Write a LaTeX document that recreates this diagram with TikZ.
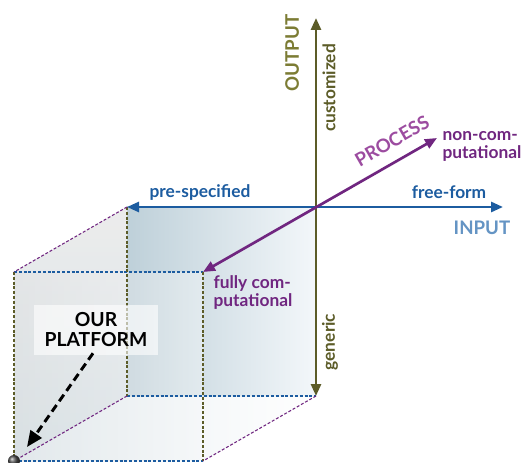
\documentclass[tikz,border=0pt]{standalone}
\usepackage{fontspec}
\setmainfont{Lato}
\usetikzlibrary{arrows.meta}

\definecolor{inblue}{RGB}{28,92,160}
\definecolor{inlight}{RGB}{100,148,196}
\definecolor{procpurple}{RGB}{112,38,128}
\definecolor{proclight}{RGB}{156,76,160}
\definecolor{outolive}{RGB}{92,92,40}
\definecolor{outlight}{RGB}{124,124,52}
\definecolor{cubedark}{RGB}{190,208,217}
\definecolor{cubelight}{RGB}{243,247,250}

\begin{document}
\begin{tikzpicture}[x=0.75pt,y=0.75pt,yscale=-1,xscale=1,
  axisline/.style={line width=2pt,{Triangle[length=9pt,width=7.5pt]}-{Triangle[length=9pt,width=7.5pt]}},
  edgeline/.style={line width=0.8pt,dash pattern=on 2.2pt off 1.4pt},
  lbl/.style={font=\bfseries\fontsize{13}{13.5}\selectfont,inner sep=1pt},
  axislbl/.style={font=\bfseries\fontsize{14}{15}\selectfont,inner sep=1pt}]
\useasboundingbox (0,0) rectangle (524,463);
\fill[white] (0,0) rectangle (524,463);

%Cube corners
\coordinate (O)   at (316,207);
\coordinate (bTL) at (127,207);
\coordinate (bBL) at (127,396);
\coordinate (bBR) at (316,396);
\coordinate (fTL) at (14,272);
\coordinate (fTR) at (203,272);
\coordinate (fBL) at (14,461);
\coordinate (fBR) at (203,461);
%Axis ends
\coordinate (inR)   at (503,207);
\coordinate (outT)  at (316,18);
\coordinate (procT) at (437,138);

%Shape: Cube faces
\shade[left color=cubedark,right color=cubelight] (bTL) -- (O) -- (bBR) -- (bBL) -- cycle;
\shade[top color=gray!18,bottom color=cubedark!80,fill opacity=0.8] (bTL) -- (fTL) -- (fBL) -- (bBL) -- cycle;
\shade[left color=gray!25,right color=white,fill opacity=0.35] (fTL) -- (fTR) -- (fBR) -- (fBL) -- cycle;
\shade[left color=cubedark!70,right color=white,fill opacity=0.5] (fBL) -- (bBL) -- (bBR) -- (fBR) -- cycle;

%Cube edges
\draw[edgeline,inblue] (fTL) -- (fTR) (fBL) -- (fBR) (bBL) -- (bBR);
\draw[edgeline,outolive] (fTL) -- (fBL) (fTR) -- (fBR) (bTL) -- (bBL);
\draw[edgeline,procpurple] (bTL) -- (fTL) (bBL) -- (fBL) (bBR) -- (fBR);

%Straight Lines
\draw[axisline,inblue] (bTL) -- (inR);
\draw[axisline,outolive] (bBR) -- (outT);
\draw[axisline,procpurple] (fTR) -- (procT);

%Labels
\node[lbl,text=inblue] (pre) at (200,192) {pre-specified};
\node[lbl,text=inblue] (free) at (449,192) {free-form};
\node[axislbl,text=inlight] (input) at (482,228) {INPUT};
\node[axislbl,text=outlight,rotate=90] (output) at (292,53) {OUTPUT};
\node[lbl,text=outolive,rotate=90] (cust) at (329,88) {customized};
\node[lbl,text=outolive,rotate=90] (gen) at (330,342) {generic};
\node[axislbl,text=proclight,rotate=29.9] (process) at (392,141) {PROCESS};
\node[lbl,text=procpurple,anchor=west,align=left] (noncomp) at (441,146) {non-com-\\putational};
\node[lbl,text=procpurple,anchor=west,align=left] (fullcomp) at (212,293) {fully com-\\putational};

%Platform
\node[font=\bfseries\fontsize{14.5}{15}\selectfont,align=center,fill=white,fill opacity=0.6,text opacity=1,
  minimum width=124*0.75pt,minimum height=50*0.75pt] (platform) at (96,330) {OUR\\PLATFORM};
\coordinate (ptip) at (27,447);
\draw[line width=2.2pt,dash pattern=on 6pt off 3.5pt,-{Triangle[length=12pt,width=10pt]}] (platform.south) ++(-3,-2) -- (ptip);
\shade[ball color=black!70] (fBL) circle (6);

\end{tikzpicture}
\end{document}
